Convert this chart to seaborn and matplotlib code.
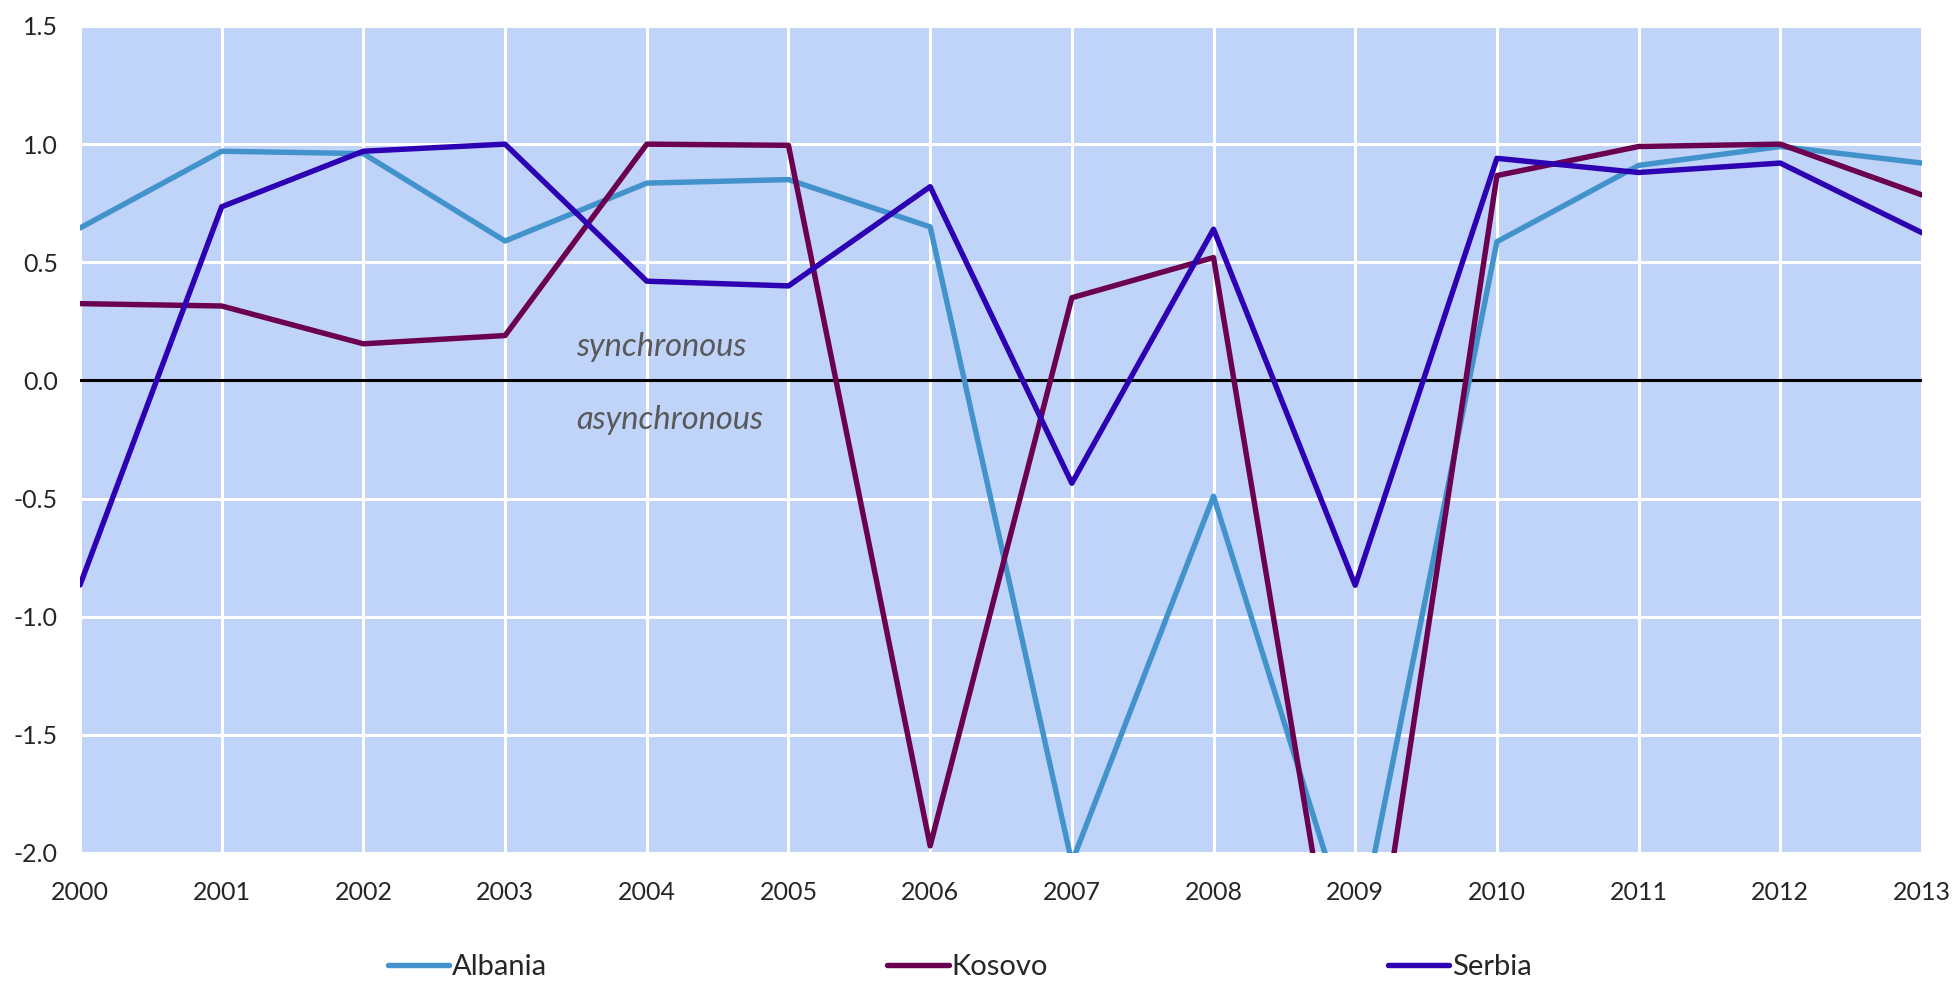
import numpy as np
import pandas as pd
import matplotlib
matplotlib.use("Agg")
import matplotlib.pyplot as plt
import seaborn as sns

# ── Data ─────────────────────────────────────────────────────
years = list(range(2000, 2014))
albania = [0.645, 0.97, 0.96, 0.59, 0.835, 0.85, 0.65, -2.04, -0.49, -2.41,
           0.587, 0.91, 0.99, 0.92]
kosovo = [0.325, 0.315, 0.155, 0.19, 1.0, 0.995, -1.97, 0.35, 0.52, -3.08,
          0.867, 0.99, 1.0, 0.785]
serbia = [-0.866, 0.735, 0.97, 1.0, 0.42, 0.40, 0.82, -0.435, 0.64, -0.867,
          0.94, 0.88, 0.92, 0.625]
countries = ["Albania", "Kosovo", "Serbia"]
colors = ["#4292cc", "#6b0050", "#2e00b4"]
y_ticks = [-2.0, -1.5, -1.0, -0.5, 0.0, 0.5, 1.0, 1.5]

df = pd.DataFrame({
    "year": years * 3,
    "value": albania + kosovo + serbia,
    "country": np.repeat(countries, len(years)),
})

# ── Style ────────────────────────────────────────────────────
sns.set_style("whitegrid", {
    "axes.facecolor": "#c0d3f8",
    "grid.color": "white",
    "axes.edgecolor": "white",
})
plt.rcParams["font.family"] = ["Lato", "DejaVu Sans"]

fig, ax = plt.subplots(figsize=(19.53, 9.84), dpi=100)
fig.subplots_adjust(left=80 / 1953, right=1922 / 1953,
                    top=1 - 26 / 984, bottom=1 - 853 / 984)

sns.lineplot(data=df, x="year", y="value", hue="country",
             palette=dict(zip(countries, colors)), linewidth=3.9,
             legend=True, ax=ax, zorder=3)

ax.axhline(0, color="black", linewidth=2.2, zorder=2)

ax.set_xlim(2000, 2013)
ax.set_ylim(-2.0, 1.5)
ax.set_xticks(years)
ax.set_yticks(y_ticks)
ax.set_yticklabels([f"{t:.1f}" for t in y_ticks])
ax.grid(True, color="white", linewidth=2.2, zorder=1)
ax.set_axisbelow(True)
for s in ax.spines.values():
    s.set_visible(False)
ax.tick_params(axis="x", length=0, pad=20, labelsize=18)
ax.tick_params(axis="y", length=0, pad=16, labelsize=18)
ax.set_xlabel("")
ax.set_ylabel("")

ax.text(2003.5, 0.14, "synchronous", style="italic", color="#595959",
        fontsize=23.5, ha="left", va="center")
ax.text(2003.5, -0.166, "asynchronous", style="italic", color="#595959",
        fontsize=23.5, ha="left", va="center")

# legend along the bottom, widely spaced
handles, labels = ax.get_legend_handles_labels()
ax.get_legend().remove()
fig.legend(handles, labels, loc="center", ncol=3, frameon=False,
           bbox_to_anchor=(0.4915, 1 - 967 / 984), fontsize=21,
           handlelength=2.1, handletextpad=0.1, columnspacing=11.65)

plt.savefig("out.png", dpi=100)
plt.close()
